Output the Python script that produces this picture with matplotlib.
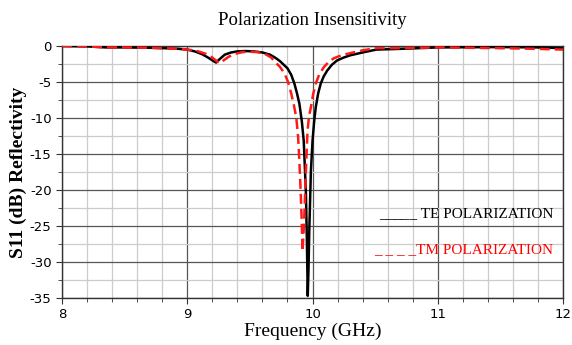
import numpy as np
import matplotlib.pyplot as plt
from matplotlib.ticker import MultipleLocator

plt.rcParams['axes.unicode_minus'] = False

# TE polarization (black solid)
te_freq = [8.0, 8.2, 8.35, 8.5, 8.7, 8.9, 9.0, 9.06, 9.12, 9.17, 9.205, 9.23, 9.26, 9.3,
           9.35, 9.4, 9.46, 9.53, 9.6, 9.66, 9.7, 9.74, 9.77, 9.80, 9.83, 9.855, 9.875,
           9.895, 9.915, 9.93, 9.947, 9.955, 9.962, 9.968, 9.974, 9.987, 10.0, 10.013,
           10.026, 10.045, 10.066, 10.09, 10.118, 10.155, 10.197, 10.25, 10.3, 10.4,
           10.51, 10.7, 11.0, 11.5, 11.8, 12.0]
te_db = [0, -0.05, -0.2, -0.2, -0.25, -0.35, -0.5, -0.75, -1.15, -1.65, -2.05, -2.3, -1.8,
         -1.2, -0.9, -0.75, -0.7, -0.75, -0.9, -1.2, -1.6, -2.1, -2.6, -3.1, -4.0, -5.2,
         -6.5, -8.0, -10.5, -13.2, -20.2, -27.0, -34.7, -31.0, -25.8, -17.4, -13.2,
         -10.5, -8.5, -6.6, -5.2, -4.2, -3.4, -2.6, -2.0, -1.6, -1.3, -0.9,
         -0.5, -0.4, -0.2, -0.15, -0.2, -0.3]

# TM polarization (red dashed)
tm_freq = [8.0, 8.2, 8.35, 8.5, 8.7, 8.9, 9.0, 9.08, 9.15, 9.2, 9.235, 9.26, 9.29, 9.33,
           9.38, 9.44, 9.5, 9.56, 9.62, 9.67, 9.7, 9.74, 9.776, 9.805, 9.83, 9.85,
           9.87, 9.885, 9.895, 9.905, 9.913, 9.92, 9.927, 9.934, 9.947, 9.96, 9.972,
           9.987, 10.005, 10.026, 10.055, 10.092, 10.13, 10.171, 10.23, 10.3, 10.4,
           10.51, 10.7, 11.0, 11.5, 11.8, 12.0]
tm_db = [0, -0.05, -0.2, -0.2, -0.25, -0.35, -0.5, -0.7, -1.1, -1.6, -2.1, -2.4, -2.0,
         -1.5, -1.1, -0.85, -0.8, -0.85, -1.1, -1.6, -2.2, -2.9, -3.8, -5.0, -6.6, -8.1,
         -9.9, -12.6, -16.0, -20.0, -23.9, -28.5, -26.5, -23.9, -17.4, -11.8, -9.8,
         -8.5, -6.7, -5.2, -3.9, -2.9, -2.2, -1.7, -1.3, -1.0, -0.6,
         -0.3, -0.3, -0.2, -0.3, -0.4, -0.5]

fig = plt.figure(figsize=(5.72, 3.45), dpi=100)
ax = fig.add_axes([0.1084, 0.1362, 0.8759, 0.7305])

ax.plot(te_freq, te_db, color='black', lw=1.8, zorder=3)
ax.plot(tm_freq, tm_db, color='#ff1a1a', lw=1.8, ls=(0, (4, 2)), zorder=4)

ax.set_xlim(8, 12)
ax.set_ylim(-35, 0)
ax.xaxis.set_major_locator(MultipleLocator(1))
ax.xaxis.set_minor_locator(MultipleLocator(0.2))
ax.yaxis.set_major_locator(MultipleLocator(5))
ax.yaxis.set_minor_locator(MultipleLocator(2.5))
ax.grid(which='major', color='#555555', lw=0.9)
ax.grid(which='minor', color='#cccccc', lw=0.9)
ax.set_axisbelow(True)
for s in ax.spines.values():
    s.set_color('#333333')
    s.set_linewidth(1.0)

tick_font = ['Liberation Sans Narrow', 'DejaVu Sans']
ax.tick_params(which='major', length=4, color='#333333', labelsize=9.5)
ax.tick_params(which='minor', length=3, color='#333333')
for lab in ax.get_xticklabels() + ax.get_yticklabels():
    lab.set_family(tick_font)

serif = 'Liberation Serif'
ax.set_title('Polarization Insensitivity', family=serif, fontsize=13.5, pad=15)
ax.set_xlabel('Frequency (GHz)', family=serif, fontsize=14, labelpad=1)
ax.set_ylabel('S11 (dB) Reflectivity', family=serif, fontsize=14, fontweight='bold', labelpad=2)

ax.text(0.632, 0.31, '_____ TE POLARIZATION', transform=ax.transAxes, family=serif,
        fontsize=11, color='black', va='bottom')
ax.text(0.622, 0.165, '_ _ _ _TM POLARIZATION', transform=ax.transAxes, family=serif,
        fontsize=11, color='red', va='bottom')

fig.savefig('out.png', dpi=100)
